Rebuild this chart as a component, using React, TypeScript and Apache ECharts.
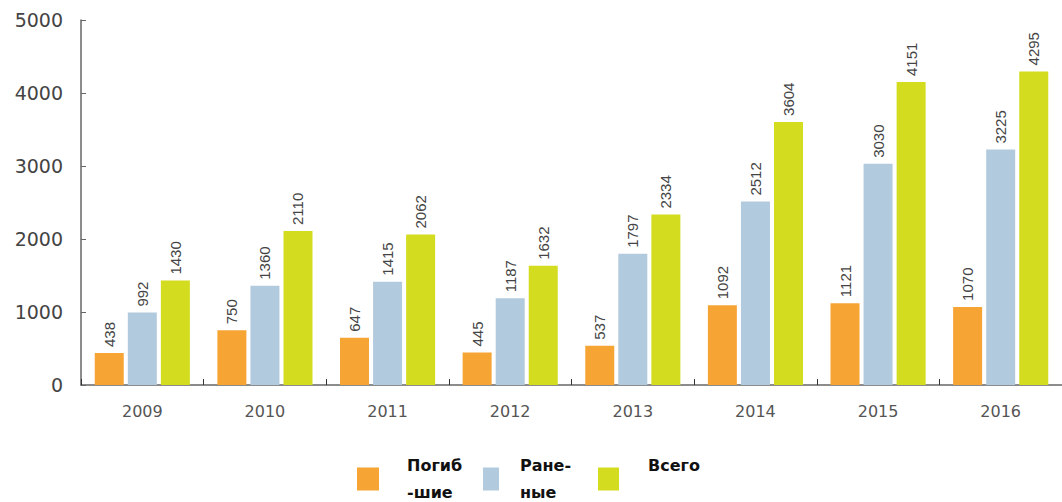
import React, { useEffect, useRef } from "react";
import * as echarts from "echarts";

const years = ["2009", "2010", "2011", "2012", "2013", "2014", "2015", "2016"];
const killed = [438, 750, 647, 445, 537, 1092, 1121, 1070];
const wounded = [992, 1360, 1415, 1187, 1797, 2512, 3030, 3225];
const total = [1430, 2110, 2062, 1632, 2334, 3604, 4151, 4295];
const seriesNames = ["Погиб\n-шие", "Ране-\nные", "Всего"];
const colors = ["#F6A534", "#B2CADD", "#D4DC1F"];

export default function App() {
  const ref = useRef<HTMLDivElement>(null);
  useEffect(() => {
    if (!ref.current) return;
    const chart = echarts.init(ref.current, undefined, { renderer: "svg" });
    const label = {
      show: true,
      position: "top",
      rotate: 90,
      align: "left",
      verticalAlign: "middle",
      distance: 6,
      color: "#444",
      fontSize: 15,
      fontFamily: "Liberation Sans",
    };
    const mk = (name: string, data: number[], color: string) => ({
      name,
      type: "bar",
      data,
      barWidth: 29,
      barGap: "14%",
      itemStyle: { color },
      label,
    });
    const mkLegend = (name: string, left: number, w: number, pad: number) => ({
      left,
      top: 452,
      padding: 0,
      itemWidth: w,
      itemHeight: 23,
      icon: "rect",
      data: [name],
      formatter: (n: string) => (n.indexOf("\n") >= 0 ? n : n + "\n "),
      textStyle: {
        fontSize: 16,
        fontWeight: "bold",
        color: "#111",
        fontFamily: "DejaVu Sans",
        lineHeight: 27,
        padding: [0, 0, 0, pad],
      },
    });
    chart.setOption({
      animation: false,
      grid: { left: 81, right: -9, top: 20, bottom: 117, containLabel: false },
      legend: [
        mkLegend(seriesNames[0], 357, 22, 23),
        mkLegend(seriesNames[1], 483, 16, 16),
        mkLegend(seriesNames[2], 598, 21, 24),
      ],
      xAxis: {
        type: "category",
        data: years,
        axisLine: { show: true, lineStyle: { color: "#666", width: 1.5 } },
        axisTick: { show: true, inside: true, length: 6, lineStyle: { color: "#333" } },
        axisLabel: { color: "#555", fontSize: 16, fontFamily: "DejaVu Sans", margin: 18 },
      },
      yAxis: {
        type: "value",
        min: 0,
        max: 5000,
        interval: 1000,
        splitLine: { show: false },
        axisLine: { show: true, lineStyle: { color: "#666", width: 1.5 } },
        axisTick: { show: true, inside: true, length: 5, lineStyle: { color: "#666" } },
        axisLabel: {
          color: "#444",
          fontSize: 19,
          fontFamily: "DejaVu Sans",
          margin: 18,
          padding: [10, 0, 0, 0],
          formatter: (v: number) => String(v),
        },
      },
      series: [
        mk(seriesNames[0], killed, colors[0]),
        mk(seriesNames[1], wounded, colors[1]),
        mk(seriesNames[2], total, colors[2]),
      ],
    });
    return () => chart.dispose();
  }, []);
  return <div ref={ref} style={{ width: 1062, height: 502, position: "absolute", left: 0, top: 0 }} />;
}
